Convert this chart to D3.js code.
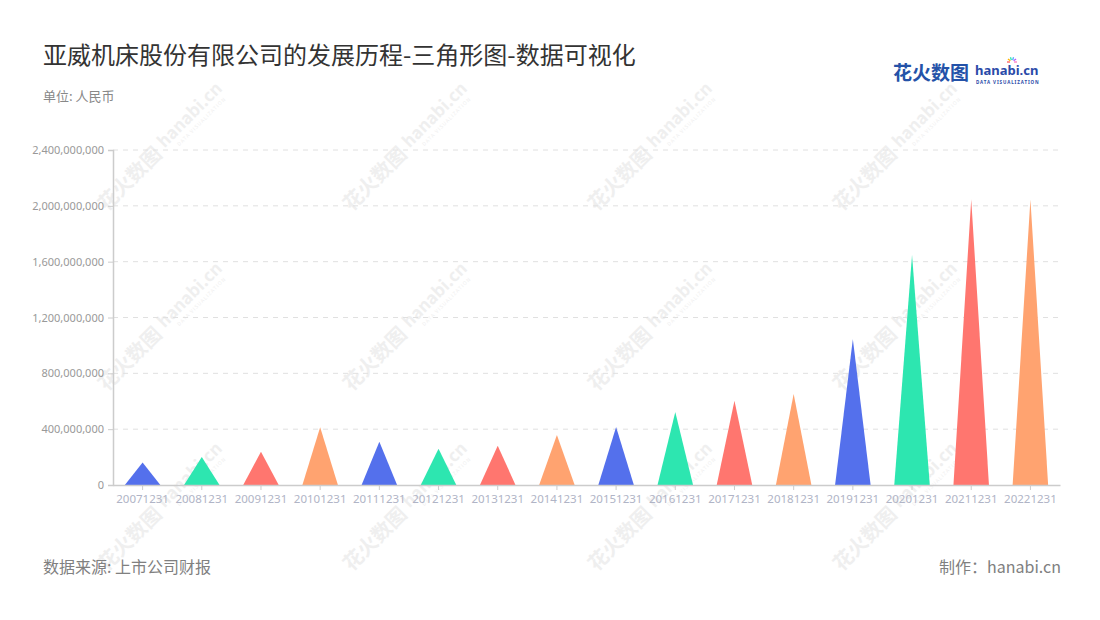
<!DOCTYPE html>
<html><head><meta charset="utf-8">
<script src="https://cdn.jsdelivr.net/npm/d3@7"></script>
<style>
html,body{margin:0;padding:0;background:#fff;}
svg{display:block;font-family:"Noto Sans CJK SC","Noto Sans",sans-serif;}
</style></head>
<body>
<svg id="chart" width="1100" height="620"></svg>
<script>
const categories = ["20071231","20081231","20091231","20101231","20111231","20121231","20131231","20141231","20151231","20161231","20171231","20181231","20191231","20201231","20211231","20221231"];
const values = [162000000,200000000,238000000,413000000,310000000,260000000,282000000,358000000,415000000,523000000,604000000,652000000,1046000000,1648000000,2049000000,2047000000];
const yTicks = [0,400000000,800000000,1200000000,1600000000,2000000000,2400000000];
const palette = ["#5470ec","#2de6b0","#ff766f","#ffa370"];

const svg = d3.select("#chart");
const margin = {left:113, right:1060, top:150, bottom:485};

// watermark
const wm = svg.append("g");
const wmX = [180,425,670,915], wmY = [130,310,490];
wmX.forEach(x=>wmY.forEach(y=>{
  const g = wm.append("g").attr("transform",`translate(${x},${y}) rotate(-45)`);
  g.append("text").attr("x",-30).attr("y",6).attr("text-anchor","end")
    .attr("font-size",20).attr("font-weight",700).attr("fill","#efefef").text("花火数图");
  g.append("text").attr("x",-24).attr("y",2).attr("text-anchor","start")
    .attr("font-size",17).attr("font-weight",700).attr("fill","#efefef").text("hanabi.cn");
  g.append("text").attr("x",-12).attr("y",11).attr("text-anchor","start")
    .attr("font-size",5).attr("fill","#efefef").attr("letter-spacing",1).text("DATA VISUALIZATION");
}));

const x = d3.scaleBand().domain(categories).range([margin.left, margin.right]).padding(0);
const y = d3.scaleLinear().domain([0,2400000000]).range([margin.bottom, margin.top]);

// grid
svg.append("g").selectAll("line").data(yTicks.filter(d=>d>0)).join("line")
  .attr("x1",margin.left).attr("x2",margin.right)
  .attr("y1",d=>y(d)).attr("y2",d=>y(d))
  .attr("stroke","#e0e0e0").attr("stroke-dasharray","5,5").attr("stroke-width",1);

// triangles
const bw = x.bandwidth()*0.6;
svg.append("g").selectAll("path").data(categories).join("path")
  .attr("d",(c,i)=>{
    const cx = x(c)+x.bandwidth()/2;
    return `M${cx-bw/2},${y(0)} L${cx},${y(values[i])} L${cx+bw/2},${y(0)} Z`;
  })
  .attr("fill",(c,i)=>palette[i%4]);

// y axis
const yAxis = svg.append("g").attr("transform",`translate(${margin.left},0)`)
  .call(d3.axisLeft(y).tickValues(yTicks).tickFormat(d3.format(",")).tickSize(5).tickPadding(4));
yAxis.select(".domain").attr("stroke","#ccc").attr("stroke-width",1.5);
yAxis.selectAll(".tick line").attr("stroke","#ccc");
yAxis.selectAll(".tick text").attr("fill","#999").attr("font-size",11)
  .attr("font-family","'Noto Sans',sans-serif");

// x axis
const xAxis = svg.append("g").attr("transform",`translate(0,${margin.bottom})`)
  .call(d3.axisBottom(x).tickSize(5).tickSizeOuter(0).tickPadding(5));
xAxis.select(".domain").attr("stroke","#ccc").attr("stroke-width",1.5);
xAxis.selectAll(".tick line").attr("stroke","#ccc");
xAxis.selectAll(".tick text").attr("fill","#b0b4c6").attr("font-size",11.5)
  .attr("font-family","'Noto Sans',sans-serif");

// titles
svg.append("text").attr("x",43).attr("y",64).attr("font-size",24).attr("fill","#333")
  .text("亚威机床股份有限公司的发展历程-三角形图-数据可视化");
svg.append("text").attr("x",43).attr("y",101).attr("font-size",13).attr("fill","#888")
  .text("单位: 人民币");
svg.append("text").attr("x",43).attr("y",573).attr("font-size",16).attr("fill","#808080")
  .text("数据来源: 上市公司财报");
svg.append("text").attr("x",1061).attr("y",573).attr("font-size",16).attr("fill","#808080")
  .attr("text-anchor","end").text("制作：hanabi.cn");

// logo
const logo = svg.append("g");
logo.append("text").attr("x",893).attr("y",80).attr("font-size",19).attr("font-weight",700)
  .attr("fill","#2452a8").text("花火数图");
logo.append("text").attr("x",975).attr("y",75).attr("font-size",13).attr("font-weight",700)
  .attr("fill","#2a4aa8").attr("font-family","'Noto Sans',sans-serif").text("hanabi.cn");
logo.append("text").attr("x",976).attr("y",84).attr("font-size",4.5).attr("font-weight",700)
  .attr("fill","#2a4aa8").attr("letter-spacing",0.9).attr("font-family","'Noto Sans',sans-serif").text("DATA VISUALIZATION");
const burstC = ["#ff5a5a","#ffb400","#2ee6b0","#4aa8ff","#b45aff","#ff7ac0"];
burstC.forEach((c,i)=>{
  const a = -Math.PI + i*Math.PI/5;
  logo.append("line").attr("x1",1012+Math.cos(a)*2).attr("y1",62+Math.sin(a)*2)
    .attr("x2",1012+Math.cos(a)*5).attr("y2",62+Math.sin(a)*5)
    .attr("stroke",c).attr("stroke-width",1.3);
});
</script>
</body></html>
